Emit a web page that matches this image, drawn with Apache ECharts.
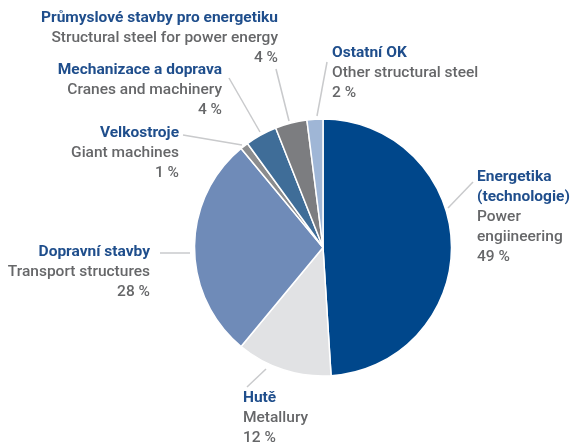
<!DOCTYPE html>
<html>
<head>
<meta charset="utf-8">
<style>
  html, body { margin: 0; padding: 0; background: #fff; }
  #chart { width: 570px; height: 443px; }
</style>
<script src="https://cdn.jsdelivr.net/npm/echarts@6/dist/echarts.min.js"></script>
</head>
<body>
<div id="chart"></div>
<script>
// data
var czNames = ['Energetika\n(technologie)', 'Hutě', 'Dopravní stavby', 'Velkostroje', 'Mechanizace a doprava', 'Průmyslové stavby pro energetiku', 'Ostatní OK']
var enNames = ['Power\nengiineering', 'Metallury', 'Transport structures', 'Giant machines', 'Cranes and machinery', 'Structural steel for power energy', 'Other structural steel']
var values = [49, 12, 28, 1, 4, 4, 2]
var colors = ['#00478b', '#e1e2e4', '#6f8bb8', '#8b8c8e', '#3f6d98', '#7c7d80', '#9fb6d6']

// label placement: anchor of the text block and its leader line
var labelPlace = [
  { x: 477, y: 167, align: 'left', line: [[448, 208], [473, 182]] },
  { x: 243, y: 388, align: 'left', line: [[266, 369], [247, 387]] },
  { x: 150, y: 242, align: 'right', line: [[190, 253], [160, 253]] },
  { x: 179, y: 123, align: 'right', line: [[242, 145], [183, 135]] },
  { x: 222, y: 60, align: 'right', line: [[260, 132], [229, 78]] },
  { x: 278, y: 8, align: 'right', line: [[289, 121], [276, 69]] },
  { x: 332, y: 43, align: 'left', line: [[317, 116], [327, 62]] }
]

var font = 'Roboto, "Noto Sans", sans-serif'
function rich(align) {
  return {
    t: { color: '#1f4e8c', fontSize: 15.5, fontWeight: 'bold', lineHeight: 20, fontFamily: font, align: align },
    s: { color: '#666769', fontSize: 15.5, fontWeight: 500, lineHeight: 20, fontFamily: font, align: align },
    p: { color: '#666769', fontSize: 15.5, fontWeight: 500, lineHeight: 20, fontFamily: font, align: align }
  }
}

var chart = echarts.init(document.getElementById('chart'))
chart.setOption({
  animation: false,
  series: [
    {
      type: 'pie',
      center: [323, 247.5],
      radius: [0, 128.5],
      startAngle: 90,
      clockwise: true,
      avoidLabelOverlap: false,
      emphasis: { disabled: true },
      itemStyle: {
        borderColor: '#fff',
        borderWidth: 1.5
      },
      label: {
        show: true,
        position: 'outside'
      },
      labelLine: {
        show: true,
        length: 10,
        length2: 0,
        lineStyle: { color: '#c9cacc', width: 1.5 }
      },
      labelLayout: function (params) {
        var p = labelPlace[params.dataIndex]
        return {
          x: p.x,
          y: p.y,
          align: p.align,
          verticalAlign: 'top',
          labelLinePoints: p.line
        }
      },
      data: values.map(function (v, i) {
        var side = labelPlace[i].align
        return {
          name: czNames[i],
          value: v,
          itemStyle: { color: colors[i] },
          label: {
            align: side,
            rich: rich(side),
            formatter: function () {
              var t = czNames[i].split('\n').map(function (s) { return '{t|' + s + '}' }).join('\n')
              var s = enNames[i].split('\n').map(function (s) { return '{s|' + s + '}' }).join('\n')
              return t + '\n' + s + '\n{p|' + v + ' %}'
            }
          }
        }
      })
    }
  ]
})
</script>
</body>
</html>
